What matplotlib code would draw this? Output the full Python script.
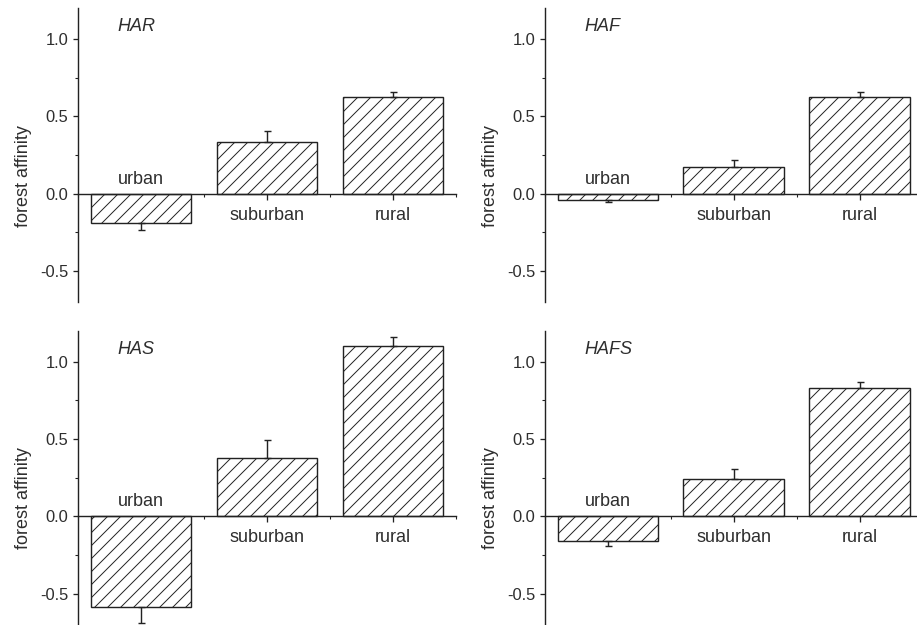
import numpy as np
import matplotlib
matplotlib.use("Agg")
import matplotlib.pyplot as plt
from matplotlib.ticker import MultipleLocator, FixedLocator

# ---- data ----
categories = ["urban", "suburban", "rural"]
panel_titles = ["HAR", "HAF", "HAS", "HAFS"]
har_values = [-0.19, 0.337, 0.622]
har_errors = [0.045, 0.067, 0.036]
haf_values = [-0.041, 0.174, 0.622]
haf_errors = [0.010, 0.045, 0.035]
has_values = [-0.59, 0.376, 1.103]
has_errors = [0.10, 0.114, 0.056]
hafs_values = [-0.163, 0.241, 0.830]
hafs_errors = [0.031, 0.064, 0.041]
y_ticks = [-0.5, 0.0, 0.5, 1.0]
y_label = "forest affinity"

DPI = 78
W, H = 917, 625
pt = 72.0 / DPI  # pixels -> points

plt.rcParams["font.family"] = ["Liberation Sans", "DejaVu Sans"]
plt.rcParams["hatch.linewidth"] = 0.9
plt.rcParams["hatch.color"] = "#2a2a2a"

TXT = "#2e2e2e"
LN = "#222222"

fig = plt.figure(figsize=((W + 0.01) / DPI, (H + 0.01) / DPI), dpi=DPI)

# panel boxes in pixels: left, right, top, bottom
boxes = [(78, 456, 8, 302), (545, 922.5, 8, 302),
         (78, 456, 330.7, 624.5), (545, 922.5, 330.7, 624.5)]
values_all = [har_values, haf_values, has_values, hafs_values]
errors_all = [har_errors, haf_errors, has_errors, hafs_errors]

x = np.arange(1, len(categories) + 1)

for (l, r, t, b), title, vals, errs in zip(boxes, panel_titles, values_all, errors_all):
    ax = fig.add_axes([l / W, 1 - b / H, (r - l) / W, (b - t) / H])
    vals = np.array(vals)
    errs = np.array(errs)
    ax.bar(x, vals, width=0.8, facecolor="white", edgecolor=LN,
           linewidth=1.3, hatch="//", zorder=2)
    lower = np.where(vals < 0, errs, 0)
    upper = np.where(vals >= 0, errs, 0)
    ax.errorbar(x, vals, yerr=[lower, upper], fmt="none", ecolor=LN,
                elinewidth=1.3, capsize=3.5 * pt, capthick=1.3, zorder=3)
    ax.set_xlim(0.5, 3.5)
    ax.set_ylim(-0.7, 1.2)
    ax.spines["top"].set_visible(False)
    ax.spines["right"].set_visible(False)
    ax.spines["bottom"].set_position(("data", 0))
    for s in ("left", "bottom"):
        ax.spines[s].set_linewidth(1.3)
        ax.spines[s].set_color(LN)
        ax.spines[s].set_zorder(4)
    ax.set_yticks(y_ticks)
    ax.set_yticklabels([f"{v:.1f}" for v in y_ticks])
    ax.yaxis.set_minor_locator(MultipleLocator(0.25))
    ax.set_xticks(x)
    ax.set_xticklabels([])
    ax.xaxis.set_minor_locator(FixedLocator([0.5, 1.5, 2.5, 3.5]))
    ax.tick_params(axis="y", which="major", direction="out", length=5 * pt,
                   width=1.2, color=LN, pad=5 * pt, labelsize=16.5 * pt,
                   labelcolor=TXT)
    ax.tick_params(axis="y", which="minor", direction="out", length=3 * pt,
                   width=1.0, color=LN)
    ax.tick_params(axis="x", which="major", direction="out", length=6 * pt,
                   width=1.2, color=LN)
    ax.tick_params(axis="x", which="minor", direction="out", length=3 * pt,
                   width=1.0, color=LN)
    ax.patch.set_alpha(0)
    for xi, v, cat in zip(x, vals, categories):
        off = 10 if v < 0 else -26
        ax.annotate(cat, (xi, 0), xytext=(0, off * pt), textcoords="offset points",
                    ha="center", va="baseline", fontsize=18 * pt, color=TXT)
    ax.annotate(title, (0.105, 1.0), xycoords="axes fraction",
                xytext=(0, -23 * pt), textcoords="offset points",
                ha="left", va="baseline", fontsize=18 * pt, style="italic",
                color=TXT)
    ax.text(-0.145, 0.43, y_label, transform=ax.transAxes, rotation=90,
            ha="center", va="center", fontsize=18 * pt, color=TXT)

fig.savefig("out.png", dpi=DPI, facecolor="white")
